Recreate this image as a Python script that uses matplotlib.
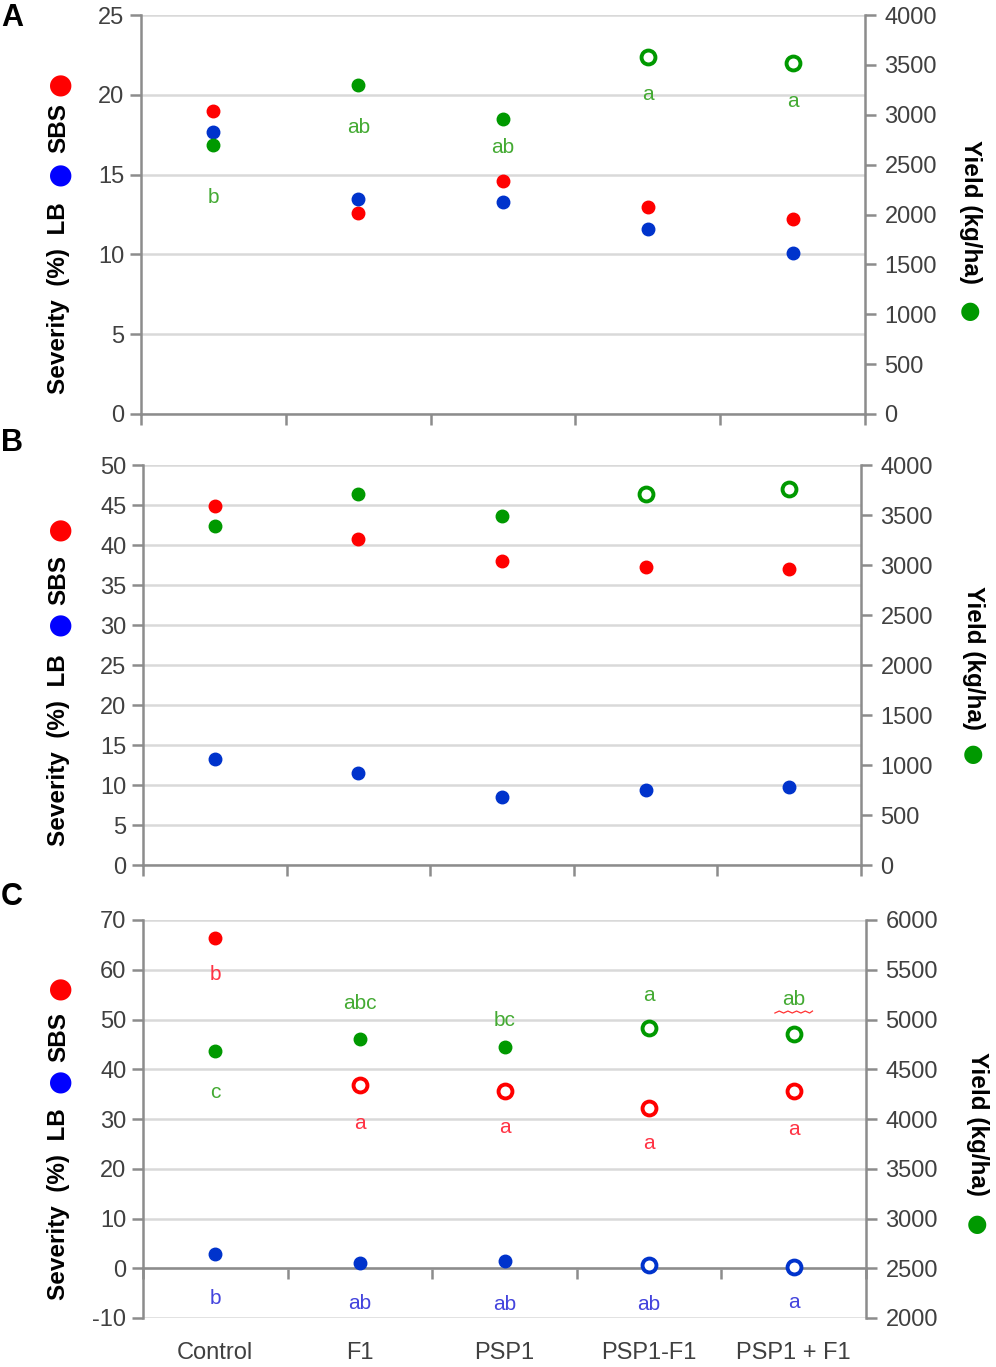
import matplotlib
matplotlib.use("Agg")
import matplotlib.pyplot as plt

plt.rcParams['font.family'] = ['Liberation Sans', 'DejaVu Sans']
plt.rcParams['axes.unicode_minus'] = False

# ---------- Data ----------
treatments = ["Control", "F1", "PSP1", "PSP1-F1", "PSP1 + F1"]

# open marker = treatment involving PSP1-F1 / PSP1 + F1 (as in the original figure)
a_sbs = [19.0, 12.6, 14.6, 13.0, 12.2]
a_lb = [17.7, 13.5, 13.3, 11.6, 10.1]
a_yield = [2700, 3300, 2960, 3580, 3520]
a_yield_open = [False, False, False, True, True]
a_yield_letters = ["b", "ab", "ab", "a", "a"]
a_yield_letter_y = [2170, 2870, 2670, 3200, 3130]

b_sbs = [44.9, 40.7, 38.0, 37.2, 37.0]
b_lb = [13.2, 11.5, 8.5, 9.4, 9.8]
b_yield = [3390, 3710, 3490, 3710, 3760]
b_yield_open = [False, False, False, True, True]

c_sbs = [66.3, 36.8, 35.6, 32.3, 35.7]
c_sbs_open = [False, True, True, True, True]
c_lb = [2.8, 1.1, 1.5, 0.6, 0.3]
c_lb_open = [False, False, False, True, True]
c_yield = [4680, 4800, 4720, 4910, 4850]
c_yield_open = [False, False, False, True, True]
c_sbs_letters = ["b", "a", "a", "a", "a"]
c_sbs_letter_y = [59.0, 29.0, 28.3, 25.0, 27.8]
c_lb_letters = ["b", "ab", "ab", "ab", "a"]
c_lb_letter_y = [-6.0, -7.0, -7.2, -7.2, -6.8]
c_yield_letters = ["c", "abc", "bc", "a", "ab"]
c_yield_letter_y = [4270, 5160, 4990, 5240, 5200]

RED = "#ff0000"
BLUE = "#0033cc"
GREEN = "#009900"
RED_TXT = "#ff3344"
BLUE_TXT = "#4444dd"
GREEN_TXT = "#44aa33"
GRID = "#d9d9d9"
SPINE = "#8c8c8c"
TXT = "#404040"

W, H = 996, 1367
fig = plt.figure(figsize=(W / 100, H / 100), dpi=100)


def box(left, top, right, bottom):
    return [left / W, 1 - bottom / H, (right - left) / W, (bottom - top) / H]


def dots(ax, vals, color, opens=None):
    for i, v in enumerate(vals):
        if opens is not None and opens[i]:
            ax.plot(i, v, "o", ms=10, mfc="white", mec=color, mew=2.8, zorder=5)
        else:
            ax.plot(i, v, "o", ms=9, color=color, mec=color, zorder=5)


def setup(ax, ax2, ylim, yticks, y2lim, y2ticks, zero_axis=False):
    ax.set_xlim(-0.5, 4.5)
    ax.set_ylim(*ylim)
    ax.set_yticks(yticks)
    ax.yaxis.grid(True, color=GRID, lw=1.8)
    ax.set_axisbelow(True)
    ax.set_xticks([i - 0.5 for i in range(6)], minor=True)
    ax.set_xticks(range(5))
    ax.tick_params(axis="x", which="minor", length=8, width=1.8, color=SPINE, direction="out")
    ax.tick_params(axis="x", which="major", length=0, labelsize=17, labelcolor=TXT, pad=14)
    ax.tick_params(axis="y", length=8, width=1.8, color=SPINE, labelsize=17, labelcolor=TXT, pad=4)
    ax.spines["top"].set_visible(False)
    ax.spines["right"].set_visible(False)
    for s in ["left", "bottom"]:
        ax.spines[s].set_color(SPINE)
        ax.spines[s].set_linewidth(1.8)
    if zero_axis:
        ax.spines["bottom"].set_position(("data", 0))
        ax.set_xticklabels(treatments)
        ax.tick_params(axis="x", which="major", pad=53)
    else:
        ax.set_xticklabels([])
    ax2.set_ylim(*y2lim)
    ax2.set_yticks(y2ticks)
    ax2.tick_params(axis="y", length=8, width=1.8, color=SPINE, labelsize=17, labelcolor=TXT, pad=6)
    for s in ["top", "left", "bottom"]:
        ax2.spines[s].set_visible(False)
    ax2.spines["right"].set_color(SPINE)
    ax2.spines["right"].set_linewidth(1.8)


def ylabels(x_left, y_sev, y_blue, y_sbs, y_red, x_right, y_yield, y_green, panel, panel_y):
    kw = dict(rotation=90, fontsize=17.5, fontweight="bold", color="black",
              ha="center", va="bottom")
    fig.text(x_left / W, 1 - y_sev / H, "Severity  (%)  LB", **kw)
    fig.text(x_left / W, 1 - y_blue / H, "\u25CF", rotation=90, fontsize=20,
             color="#0000ff", ha="center", va="center", family="DejaVu Sans")
    fig.text(x_left / W, 1 - y_sbs / H, "SBS", **kw)
    fig.text(x_left / W, 1 - y_red / H, "\u25CF", rotation=90, fontsize=20,
             color=RED, ha="center", va="center", family="DejaVu Sans")
    fig.text(x_right / W, 1 - y_yield / H, "Yield (kg/ha)", rotation=-90, fontsize=17.5,
             fontweight="bold", color="black", ha="center", va="top")
    fig.text(x_right / W, 1 - y_green / H, "\u25CF", fontsize=17,
             color=GREEN, ha="center", va="center", family="DejaVu Sans")
    fig.text(12 / W, 1 - panel_y / H, panel, fontsize=22, fontweight="bold",
             ha="center", va="center")


def letters(ax, labels, ys, color):
    for i, (t, y) in enumerate(zip(labels, ys)):
        ax.text(i, y, t, color=color, fontsize=15, ha="center", va="center", zorder=6)


# ---------- Panel A ----------
axA = fig.add_axes(box(141, 15, 865, 414))
axA2 = axA.twinx()
setup(axA, axA2, (0, 25), range(0, 26, 5), (0, 4000), range(0, 4001, 500))
dots(axA, a_sbs, RED)
dots(axA, a_lb, BLUE)
dots(axA2, a_yield, GREEN, a_yield_open)
letters(axA2, a_yield_letters, a_yield_letter_y, GREEN_TXT)
ylabels(59, 394, 174, 153, 84, 970, 140, 311, "A", 18)

# ---------- Panel B ----------
axB = fig.add_axes(box(143, 465, 861, 865))
axB2 = axB.twinx()
setup(axB, axB2, (0, 50), range(0, 51, 5), (0, 4000), range(0, 4001, 500))
dots(axB, b_sbs, RED)
dots(axB, b_lb, BLUE)
dots(axB2, b_yield, GREEN, b_yield_open)
ylabels(59, 846, 624, 605, 529, 973, 586, 754, "B", 443)

# ---------- Panel C ----------
axC = fig.add_axes(box(143, 920, 866, 1318))
axC2 = axC.twinx()
setup(axC, axC2, (-10, 70), range(-10, 71, 10), (2000, 6000), range(2000, 6001, 500),
      zero_axis=True)
dots(axC, c_sbs, RED, c_sbs_open)
dots(axC, c_lb, BLUE, c_lb_open)
dots(axC2, c_yield, GREEN, c_yield_open)
letters(axC, c_sbs_letters, c_sbs_letter_y, RED_TXT)
letters(axC, c_lb_letters, c_lb_letter_y, BLUE_TXT)
letters(axC2, c_yield_letters, c_yield_letter_y, GREEN_TXT)
# spell-check squiggle under the last "ab"
zig_x = [3.87, 3.9, 3.93, 3.96, 3.99, 4.02, 4.05, 4.08, 4.11, 4.13]
zig_y = [5065, 5085, 5065, 5085, 5065, 5085, 5065, 5085, 5065, 5085]
axC2.plot(zig_x, zig_y, color="#ff3333", lw=0.9, zorder=6)
ylabels(59, 1300, 1081, 1062, 988, 977, 1052, 1224, "C", 897)

fig.savefig("out.png", dpi=100)
